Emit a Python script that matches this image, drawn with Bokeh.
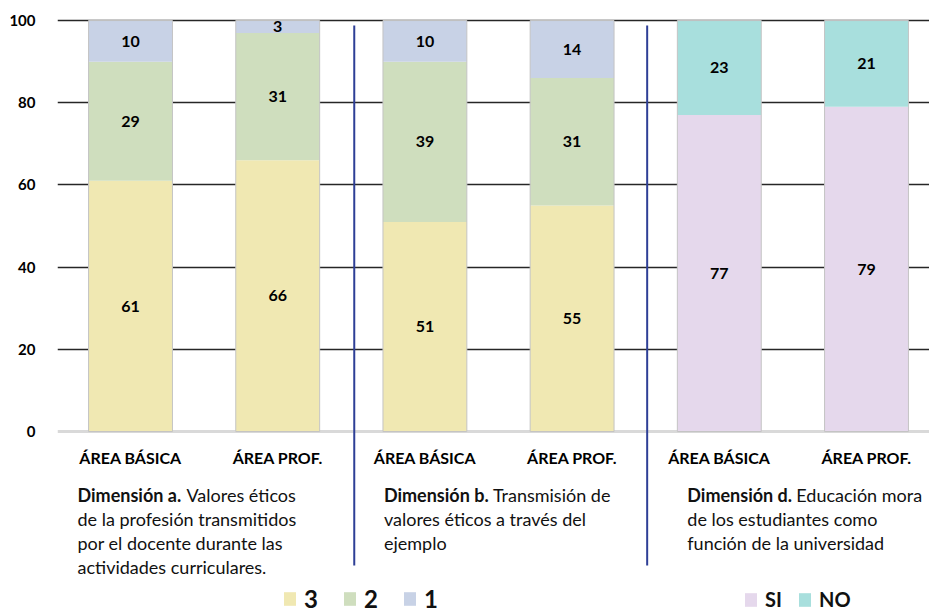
from bokeh.plotting import figure
from bokeh.models import ColumnDataSource, Range1d, FixedTicker, Span, Legend, LegendItem
from bokeh.embed import file_html
from bokeh.resources import INLINE
from bokeh.core.properties import value

# ---------------- data ----------------
categories = ["ÁREA BÁSICA", "ÁREA PROF.", "ÁREA BÁSICA", "ÁREA PROF.", "ÁREA BÁSICA", "ÁREA PROF."]
# Dimension a (first two) and dimension b (next two): answer levels 3, 2, 1 (%)
level3 = [61, 66, 51, 55]
level2 = [29, 31, 39, 31]
level1 = [10, 3, 10, 14]
# Dimension d: SI / NO (%)
si = [77, 79]
no = [23, 21]
y_ticks = [0, 20, 40, 60, 80, 100]
dimension_titles = ["Dimensión a.", "Dimensión b.", "Dimensión d."]
dimension_lines = [
    ["Valores éticos", "de la profesión transmitidos", "por el docente durante las", "actividades curriculares."],
    ["Transmisión de", "valores éticos a través del", "ejemplo"],
    ["Educación mora", "de los estudiantes como", "función de la universidad"],
]
legend_levels = ["3", "2", "1"]
legend_yesno = ["SI", "NO"]

# ---------------- style ----------------
FONT = "Lato"
C3, C2, C1 = "#f0e8b2", "#cfdebe", "#c8d2e6"
CSI, CNO = "#e5d8ec", "#a8dfdd"
SEP = "#2e3f96"
BAR_W = 0.57

p = figure(width=929, height=615, x_range=Range1d(-0.496, 5.428), y_range=Range1d(-44.76, 100.5),
           output_backend="svg", toolbar_location=None,
           min_border_left=57, min_border_right=0, min_border_top=18, min_border_bottom=0)
p.outline_line_color = None
p.background_fill_color = "white"
p.xaxis.visible = False
p.xgrid.visible = False

yax = p.yaxis[0]
yax.ticker = FixedTicker(ticks=y_ticks)
yax.axis_line_color = None
yax.major_tick_line_color = None
yax.minor_tick_line_color = None
yax.major_label_text_font = FONT
yax.major_label_text_font_style = "bold"
yax.major_label_text_font_size = "15px"
yax.major_label_text_color = "black"
yax.major_label_standoff = 16

p.ygrid.ticker = FixedTicker(ticks=[t for t in y_ticks if t > 0])
p.ygrid.grid_line_color = "#262626"
p.ygrid.grid_line_width = 1.6
p.add_layout(Span(location=0, dimension="width", line_color="#d9d9d9", line_width=3, level="underlay"))

# ---------------- stacked bars ----------------
x_ab = [0, 1, 2, 3]
x_d = [4, 5]
b2 = level3
t2 = [a + b for a, b in zip(level3, level2)]
t1 = [a + b for a, b in zip(t2, level1)]

r3 = p.vbar(x=x_ab, width=BAR_W, bottom=0, top=level3, fill_color=C3, line_color=None)
r2 = p.vbar(x=x_ab, width=BAR_W, bottom=b2, top=t2, fill_color=C2, line_color=None)
r1 = p.vbar(x=x_ab, width=BAR_W, bottom=t2, top=t1, fill_color=C1, line_color=None)
rsi = p.vbar(x=x_d, width=BAR_W, bottom=0, top=si, fill_color=CSI, line_color=None)
t_no = [a + b for a, b in zip(si, no)]
rno = p.vbar(x=x_d, width=BAR_W, bottom=si, top=t_no, fill_color=CNO, line_color=None)

totals = t1 + t_no
p.vbar(x=x_ab + x_d, width=BAR_W, bottom=0, top=totals, fill_color=None, line_color="#c4c4c4", line_width=1)

# value labels
lx, ly, lt = [], [], []
for xs, bots, tops, vals in [(x_ab, [0] * 4, level3, level3), (x_ab, b2, t2, level2), (x_ab, t2, t1, level1),
                             (x_d, [0] * 2, si, si), (x_d, si, t_no, no)]:
    for x, b, t, v in zip(xs, bots, tops, vals):
        lx.append(x); ly.append((b + t) / 2); lt.append(str(v))
p.text(x=lx, y=ly, text=lt, text_align="center", text_baseline="middle",
       text_font=value(FONT), text_font_style="bold", text_font_size="16px", text_color="black")

# category labels
p.text(x=list(range(len(categories))), y=[-6.4] * len(categories), text=categories,
       text_align="center", text_baseline="middle", text_font=value(FONT),
       text_font_style="bold", text_font_size="16px", text_color="black")

# separators
p.segment(x0=[1.52, 3.51], y0=[98.8, 98.8], x1=[1.52, 3.51], y1=[-32.6, -32.6], line_color=SEP, line_width=2)

# dimension descriptions
anchor_x = [0, 2, 4]
anchor_dx = [-53, -41, -32]
title_w = 109
tx, tdx, tt = [], [], []
rx, rdx, rdy, rt = [], [], [], []
for ax, dx, title, lines in zip(anchor_x, anchor_dx, dimension_titles, dimension_lines):
    tx.append(ax); tdx.append(dx); tt.append(title)
    for i, line in enumerate(lines):
        rx.append(ax)
        rdx.append(dx + (title_w if i == 0 else 0))
        rdy.append(i * 24)
        rt.append(line)
p.text(x=tx, y=[-15.4] * len(tx), x_offset=tdx, text=tt, text_align="left", text_baseline="middle",
       text_font=value(FONT), text_font_style="bold", text_font_size="18px", text_color="#111111")
p.text(source=ColumnDataSource(dict(x=rx, y=[-15.4] * len(rx), dx=rdx, dy=rdy, t=rt)),
       x="x", y="y", x_offset="dx", y_offset="dy", text="t", text_align="left", text_baseline="middle",
       text_font=value(FONT), text_font_size="18px", text_color="#111111")

# ---------------- legends ----------------
leg1 = Legend(items=[LegendItem(label=lab, renderers=[r]) for lab, r in zip(legend_levels, [r3, r2, r1])],
              orientation="horizontal", location=(225, 2))
leg2 = Legend(items=[LegendItem(label=lab, renderers=[r]) for lab, r in zip(legend_yesno, [rsi, rno])],
              orientation="horizontal", location=(686, 4))
for leg, fs, sp in [(leg1, "24px", 18), (leg2, "20px", 12)]:
    leg.label_text_font = FONT
    leg.label_text_font_style = "bold"
    leg.label_text_font_size = fs
    leg.label_text_color = "#111111"
    leg.glyph_width = 15
    leg.glyph_height = 17
    leg.label_standoff = 7
    leg.spacing = sp
    leg.padding = 0
    leg.margin = 0
    leg.border_line_color = None
    leg.background_fill_alpha = 0
    p.add_layout(leg, "center")

open("out.html", "w").write(file_html(p, INLINE))
